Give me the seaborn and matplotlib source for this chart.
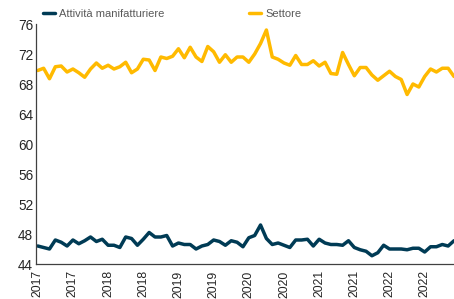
import pandas as pd
import matplotlib
matplotlib.use("Agg")
import matplotlib.pyplot as plt
import seaborn as sns

# Monthly series, Jan 2017 - Dec 2022
manifatturiere = [46.4, 46.2, 46.0, 47.2, 46.9, 46.4, 47.2, 46.7, 47.1, 47.6, 47.0, 47.3,
                  46.5, 46.5, 46.2, 47.6, 47.4, 46.5, 47.3, 48.2, 47.6, 47.6, 47.8, 46.4,
                  46.8, 46.6, 46.6, 46.0, 46.4, 46.6, 47.2, 47.0, 46.5, 47.1, 46.9, 46.3,
                  47.5, 47.8, 49.2, 47.4, 46.6, 46.8, 46.5, 46.2, 47.2, 47.2, 47.3, 46.4,
                  47.3, 46.8, 46.6, 46.6, 46.5, 47.1, 46.2, 45.9, 45.7, 45.1, 45.5, 46.5,
                  46.0, 46.0, 46.0, 45.9, 46.1, 46.1, 45.6, 46.3, 46.3, 46.6, 46.4, 47.1]
settore = [69.8, 70.1, 68.7, 70.3, 70.4, 69.6, 70.0, 69.5, 68.9, 70.0, 70.8, 70.1,
           70.5, 70.0, 70.3, 70.9, 69.5, 70.0, 71.3, 71.2, 69.8, 71.6, 71.4, 71.7,
           72.7, 71.5, 72.9, 71.6, 71.0, 73.0, 72.3, 70.9, 71.9, 70.9, 71.6, 71.6,
           70.9, 72.0, 73.4, 75.2, 71.6, 71.3, 70.8, 70.5, 71.8, 70.6, 70.6, 71.1,
           70.4, 70.9, 69.4, 69.3, 72.2, 70.6, 69.1, 70.2, 70.2, 69.2, 68.5, 69.1,
           69.7, 69.0, 68.6, 66.6, 68.0, 67.6, 69.0, 70.0, 69.6, 70.1, 70.1, 69.0]
tick_labels = ["2017", "2017", "2018", "2018", "2019", "2019",
               "2020", "2020", "2021", "2021", "2022", "2022"]

months = list(range(len(settore)))
df = pd.concat([
    pd.DataFrame({"mese": months, "valore": manifatturiere, "serie": "Attività manifatturiere"}),
    pd.DataFrame({"mese": months, "valore": settore, "serie": "Settore"}),
])

sns.set_style("white")
plt.rcParams["font.family"] = ["Liberation Sans", "DejaVu Sans"]

fig = plt.figure(figsize=(4.54, 2.99), dpi=100)
ax = fig.add_axes([36 / 454, 35 / 299, 418 / 454, 240 / 299])

sns.lineplot(data=df, x="mese", y="valore", hue="serie",
             palette={"Attività manifatturiere": "#003B55", "Settore": "#FFBA00"},
             linewidth=2.5, ax=ax, legend=True)

ax.set_xlim(-0.3, 71)
ax.set_ylim(44, 76)
ax.set_yticks(range(44, 77, 4))
ax.set_xticks(range(0, 72, 6))
ax.set_xticklabels(tick_labels, rotation=90)
ax.set_xlabel("")
ax.set_ylabel("")
ax.tick_params(axis="x", length=3, width=0.8, color="#595959", labelsize=8.8,
               labelcolor="#262626", pad=1.5)
ax.tick_params(axis="y", length=0, labelsize=9.8, labelcolor="#262626", pad=2)
for s in ["top", "right"]:
    ax.spines[s].set_visible(False)
for s in ["left", "bottom"]:
    ax.spines[s].set_color("#404040")
    ax.spines[s].set_linewidth(0.9)

handles, labels = ax.get_legend_handles_labels()
ax.get_legend().remove()
fig.legend(handles, labels, loc="center left", bbox_to_anchor=(43 / 454, 1 - 14 / 299),
           ncol=2, frameon=False, fontsize=8, handlelength=1.1, handletextpad=0.35,
           columnspacing=7.6, borderpad=0, borderaxespad=0, labelcolor="#595959")

fig.savefig("out.png", dpi=100)
